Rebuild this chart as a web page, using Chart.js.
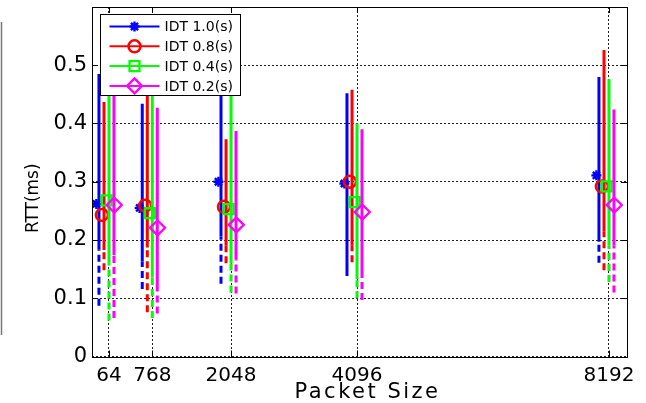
<!DOCTYPE html>
<html><head><meta charset="utf-8">
<script src="https://cdn.jsdelivr.net/npm/chart.js@4"></script>
<style>html,body{margin:0;padding:0;background:#fff;overflow:hidden}canvas{display:block}</style>
</head><body>
<canvas id="c" width="646" height="403"></canvas>
<script>
// ---------- data ----------
const packetSizes = [64, 768, 2048, 4096, 8192];
const xTickValues = [64, 768, 2048, 4096, 8192];
const yTickValues = [0, 0.1, 0.2, 0.3, 0.4, 0.5];
const seriesNames = ['IDT 1.0(s)', 'IDT 0.8(s)', 'IDT 0.4(s)', 'IDT 0.2(s)'];

// mean RTT (marker)
const idt10Mean = [0.262, 0.255, 0.300, 0.297, 0.311];
const idt08Mean = [0.243, 0.259, 0.257, 0.300, 0.292];
const idt04Mean = [0.268, 0.246, 0.253, 0.265, 0.292];
const idt02Mean = [0.260, 0.221, 0.226, 0.248, 0.260];
// maximum (top of solid bar)
const idt10Max = [0.485, 0.434, 0.470, 0.452, 0.480];
const idt08Max = [0.437, 0.470, 0.373, 0.458, 0.526];
const idt04Max = [0.500, 0.460, 0.455, 0.400, 0.476];
const idt02Max = [0.480, 0.427, 0.387, 0.390, 0.424];
// lower end of solid bar
const idt10Low = [0.184, 0.163, 0.206, 0.140, 0.197];
const idt08Low = [0.183, 0.187, 0.190, 0.190, 0.214];
const idt04Low = [0.161, 0.135, 0.160, 0.133, 0.190];
const idt02Low = [0.174, 0.116, 0.166, 0.145, 0.190];
// minimum (bottom of dashed bar)
const idt10Min = [0.087, 0.116, 0.125, 0.138, 0.161];
const idt08Min = [0.148, 0.076, 0.160, 0.162, 0.148];
const idt04Min = [0.062, 0.066, 0.110, 0.100, 0.128];
const idt02Min = [0.066, 0.074, 0.108, 0.097, 0.110];

const seriesMean = [idt10Mean, idt08Mean, idt04Mean, idt02Mean];
const seriesMax = [idt10Max, idt08Max, idt04Max, idt02Max];
const seriesLow = [idt10Low, idt08Low, idt04Low, idt02Low];
const seriesMin = [idt10Min, idt08Min, idt04Min, idt02Min];

// ---------- styles ----------
const colors = ['#0000ff', '#ff0000', '#00ff00', '#ff00ff'];
const lineOffset = [-163, -81, 0, 81];      // x offset of bars, in data units
const markerOffset = [-205, -115, -40, 85]; // x offset of markers, in data units
const markerStyle = [
  {pointStyle: 'star', radius: 5, borderWidth: 2.4},
  {pointStyle: 'circle', radius: 6, borderWidth: 2.5},
  {pointStyle: 'rect', radius: 7, borderWidth: 2.3},
  {pointStyle: 'rectRot', radius: 7.5, borderWidth: 2.3}
];
const FONT = "'DejaVu Sans', Arial, sans-serif";

// ---------- datasets ----------
const datasets = [];
for (let s = 0; s < 4; s++) {
  const solid = [], dashed = [], marks = [];
  packetSizes.forEach((p, i) => {
    const x = p + lineOffset[s];
    solid.push({x: x, y: seriesLow[s][i]}, {x: x, y: seriesMax[s][i]}, {x: x, y: null});
    dashed.push({x: x, y: seriesMin[s][i]}, {x: x, y: seriesLow[s][i]}, {x: x, y: null});
    marks.push({x: p + markerOffset[s], y: seriesMean[s][i]});
  });
  datasets.push({label: seriesNames[s] + ' range', data: solid, showLine: true, spanGaps: false,
    borderColor: colors[s], borderWidth: 3, pointRadius: 0, borderCapStyle: 'butt'});
  datasets.push({label: seriesNames[s] + ' min', data: dashed, showLine: true, spanGaps: false,
    borderColor: colors[s], borderWidth: 3, pointRadius: 0, borderDash: [7, 4], borderCapStyle: 'butt'});
  datasets.push({label: seriesNames[s], data: marks, showLine: false,
    pointStyle: markerStyle[s].pointStyle, pointRadius: markerStyle[s].radius,
    pointBorderWidth: markerStyle[s].borderWidth, pointBorderColor: colors[s],
    pointBackgroundColor: 'rgba(0,0,0,0)'});
}
datasets.forEach((d, i) => { d.order = datasets.length - i; });

function drawMarker(ctx, style, x, y, color) {
  ctx.save();
  ctx.strokeStyle = color; ctx.lineWidth = style.borderWidth;
  const r = style.radius;
  ctx.beginPath();
  if (style.pointStyle === 'star') {
    for (let k = 0; k < 4; k++) {
      const a = k * Math.PI / 4;
      ctx.moveTo(x - r * Math.cos(a), y - r * Math.sin(a));
      ctx.lineTo(x + r * Math.cos(a), y + r * Math.sin(a));
    }
  } else if (style.pointStyle === 'circle') {
    ctx.arc(x, y, r, 0, Math.PI * 2);
  } else if (style.pointStyle === 'rect') {
    const h = r * Math.SQRT1_2; ctx.rect(x - h, y - h, 2 * h, 2 * h);
  } else {
    ctx.moveTo(x, y - r); ctx.lineTo(x + r, y); ctx.lineTo(x, y + r); ctx.lineTo(x - r, y); ctx.closePath();
  }
  ctx.stroke();
  ctx.restore();
}

// title tweaks (wider spacing / shift), applied around Chart.js' own title drawing
function patchTitle(sc, dx, dy, spacing) {
  if (sc._patchedTitle) return;
  const orig = sc.drawTitle;
  sc.drawTitle = function () {
    const c = this.ctx;
    c.save();
    c.translate(dx, dy);
    if (spacing) c.letterSpacing = spacing;
    orig.call(this);
    c.restore();
  };
  sc._patchedTitle = true;
}

const decor = {
  id: 'decor',
  beforeDraw(chart) {
    const ctx = chart.ctx;
    ctx.save();
    ctx.fillStyle = '#fff'; ctx.fillRect(0, 0, chart.width, chart.height);
    // cropped neighbour frame at the left edge
    ctx.strokeStyle = '#777'; ctx.lineWidth = 1.5;
    ctx.beginPath(); ctx.moveTo(1.5, 22); ctx.lineTo(1.5, 335); ctx.stroke();
    ctx.restore();
  },
  afterDraw(chart) {
    const ctx = chart.ctx, ca = chart.chartArea;
    const xs = chart.scales.x, ys = chart.scales.y;
    ctx.save();
    ctx.strokeStyle = '#000'; ctx.lineWidth = 1;
    ctx.strokeRect(Math.round(ca.left) + 0.5, Math.round(ca.top) + 0.5,
      Math.round(ca.right - ca.left), Math.round(ca.bottom - ca.top));
    // inward tick marks
    ctx.beginPath();
    xTickValues.forEach(v => {
      const px = Math.round(xs.getPixelForValue(v)) + 0.5;
      ctx.moveTo(px, ca.bottom); ctx.lineTo(px, ca.bottom - 6);
      ctx.moveTo(px, ca.top); ctx.lineTo(px, ca.top + 6);
    });
    yTickValues.concat([0.6]).forEach(v => {
      const py = Math.round(ys.getPixelForValue(v)) + 0.5;
      ctx.moveTo(ca.left, py); ctx.lineTo(ca.left + 6, py);
      ctx.moveTo(ca.right, py); ctx.lineTo(ca.right - 6, py);
    });
    ctx.stroke();
    // legend
    const L = {x: Math.round(ca.left) + 8.5, y: Math.round(ca.top) + 7.5, w: 140, h: 81};
    ctx.fillStyle = '#fff'; ctx.fillRect(L.x, L.y, L.w, L.h);
    ctx.strokeStyle = '#000'; ctx.lineWidth = 1; ctx.strokeRect(L.x, L.y, L.w, L.h);
    ctx.font = '14px ' + FONT; ctx.textBaseline = 'middle'; ctx.textAlign = 'left';
    for (let s = 0; s < 4; s++) {
      const cy = L.y + 12 + s * 19.8;
      ctx.strokeStyle = colors[s]; ctx.lineWidth = 2;
      ctx.beginPath(); ctx.moveTo(L.x + 9, cy); ctx.lineTo(L.x + 59, cy); ctx.stroke();
      drawMarker(ctx, markerStyle[s], L.x + 34, cy, colors[s]);
      ctx.fillStyle = '#000';
      ctx.fillText(seriesNames[s], L.x + 64, cy + 1);
    }
    ctx.restore();
  }
};

new Chart(document.getElementById('c'), {
  type: 'scatter',
  data: {datasets},
  options: {
    responsive: false, animation: false, devicePixelRatio: 1,
    layout: {autoPadding: false, padding: {top: 7, right: 19, left: 0, bottom: 0}},
    plugins: {legend: {display: false}, tooltip: {enabled: false}},
    scales: {
      x: {
        type: 'linear', min: -212, max: 8485,
        afterBuildTicks: sc => { sc.ticks = xTickValues.map(v => ({value: v})); },
        afterFit: sc => { sc.height = 46.5; sc.paddingLeft = 0; sc.paddingRight = 0; patchTitle(sc, 8, 0, '2.5px'); },
        ticks: {callback: v => String(v), color: '#000', font: {family: FONT, size: 20}, padding: 7, maxRotation: 0, autoSkip: false},
        grid: {color: '#222', lineWidth: 1, drawTicks: false},
        border: {display: false, dash: [2, 2]},
        title: {display: true, text: 'Packet Size', color: '#000', font: {family: FONT, size: 21, lineHeight: 1}, padding: {top: 0, bottom: 0}}
      },
      y: {
        type: 'linear', min: 0, max: 0.6,
        afterBuildTicks: sc => { sc.ticks = yTickValues.map(v => ({value: v})); },
        afterFit: sc => { sc.width = 92; sc.paddingTop = 0; sc.paddingBottom = 0; patchTitle(sc, 0, 16.5, null); },
        ticks: {callback: v => (v === 0 ? '0' : (Math.round(v * 10) / 10).toFixed(1)), color: '#000', font: {family: FONT, size: 21}, padding: 5},
        grid: {color: '#222', lineWidth: 1, drawTicks: false},
        border: {display: false, dash: [2, 2]},
        title: {display: true, text: 'RTT(ms)', color: '#000', font: {family: FONT, size: 17, lineHeight: 1.2}, padding: {top: 23.8, bottom: 0}}
      }
    }
  },
  plugins: [decor]
});
</script>
</body></html>
